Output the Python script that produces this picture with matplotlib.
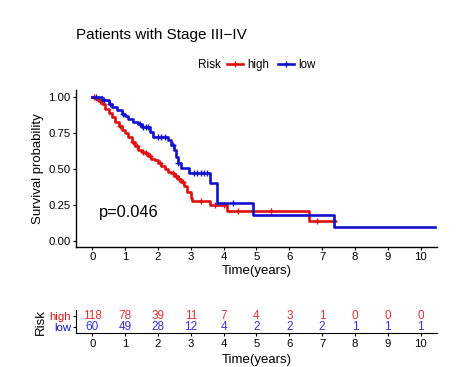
import matplotlib
matplotlib.use("Agg")
import matplotlib.pyplot as plt
from matplotlib.lines import Line2D

plt.rcParams['font.family'] = ['Liberation Sans', 'DejaVu Sans']

# 高风险组 KM 曲线 (时间, 生存率)
high_time = [0, 0.1, 0.2, 0.3, 0.4, 0.5, 0.6, 0.7, 0.8, 0.9, 1.0, 1.1, 1.2, 1.3, 1.4,
             1.5, 1.6, 1.7, 1.8, 1.9, 2.0, 2.1, 2.2, 2.3, 2.4, 2.5, 2.6, 2.7, 2.8, 2.9,
             3.0, 3.05, 3.6, 4.1, 6.6, 7.4]
high_surv = [1.0, 0.99, 0.97, 0.95, 0.92, 0.89, 0.86, 0.83, 0.80, 0.77, 0.75, 0.72, 0.69,
             0.66, 0.63, 0.62, 0.61, 0.59, 0.57, 0.56, 0.54, 0.52, 0.50, 0.48, 0.47, 0.45,
             0.43, 0.41, 0.38, 0.34, 0.30, 0.28, 0.25, 0.21, 0.14, 0.14]
high_cens = [0.05, 0.25, 0.85, 1.25, 1.35, 1.55, 1.65, 1.75, 2.05, 2.45, 2.55, 2.65, 2.75,
             3.3, 3.75, 4.0, 4.45, 5.45, 6.85, 7.35]

# 低风险组
low_time = [0, 0.3, 0.5, 0.6, 0.75, 0.9, 1.0, 1.1, 1.25, 1.4, 1.5, 1.75, 1.85, 2.3, 2.4,
            2.5, 2.55, 2.6, 2.7, 2.95, 3.6, 3.8, 4.9, 7.35, 10.45]
low_surv = [1.0, 0.98, 0.95, 0.93, 0.91, 0.88, 0.87, 0.85, 0.83, 0.81, 0.79, 0.76, 0.72,
            0.70, 0.67, 0.63, 0.58, 0.54, 0.51, 0.47, 0.40, 0.265, 0.18, 0.094, 0.094]
low_cens = [0.1, 0.35, 0.55, 0.95, 1.45, 1.55, 1.65, 1.7, 2.0, 2.1, 2.2, 2.45, 2.6,
            3.1, 3.2, 3.3, 3.4, 3.5, 4.3]

# 风险表
risk_times = [0, 1, 2, 3, 4, 5, 6, 7, 8, 9, 10]
risk_high = [118, 78, 39, 11, 7, 4, 3, 1, 0, 0, 0]
risk_low = [60, 49, 28, 12, 4, 2, 2, 2, 1, 1, 1]

pval_text = "p=0.046"
c_high = '#DD1111'
c_low = '#1111CC'


def surv_at(times, surv, t):
    s = surv[0]
    for ti, si in zip(times, surv):
        if ti <= t:
            s = si
    return s


fig = plt.figure(figsize=(4.71, 3.67), dpi=100)
ax = fig.add_axes([0.161, 0.328, 0.767, 0.427])

for times, surv, cens, col in [(high_time, high_surv, high_cens, c_high),
                               (low_time, low_surv, low_cens, c_low)]:
    ax.step(times, surv, where='post', color=col, lw=1.9)
    ax.plot(cens, [surv_at(times, surv, t) for t in cens], '+', color=col, ms=5, mew=1.0)

ax.text(0.2, 0.2, pval_text, fontsize=11.8, ha='left', va='center')
ax.set_xlim(-0.5, 10.5)
ax.set_ylim(-0.04, 1.05)
ax.set_xticks(risk_times)
ax.set_yticks([0, 0.25, 0.5, 0.75, 1.0])
ax.set_yticklabels(["0.00", "0.25", "0.50", "0.75", "1.00"])
ax.tick_params(labelsize=8.2, length=2.5, width=0.8, pad=1.5)
ax.set_xlabel("Time(years)", fontsize=9.5, labelpad=2)
ax.set_ylabel("Survival probability", fontsize=9.5, labelpad=3)
for s in ['top', 'right']:
    ax.spines[s].set_visible(False)
for s in ['left', 'bottom']:
    ax.spines[s].set_linewidth(1.0)

fig.text(0.161, 0.905, "Patients with Stage III\u2212IV", fontsize=11, ha='left', va='center')

# 图例
fig.text(0.42, 0.822, "Risk", fontsize=8.5, ha='left', va='center')
handles = [Line2D([], [], color=c_high, lw=1.9, marker='+', ms=5),
           Line2D([], [], color=c_low, lw=1.9, marker='+', ms=5)]
fig.legend(handles, ["high", "low"], loc='center left', bbox_to_anchor=(0.482, 0.822),
           ncol=2, frameon=False, fontsize=8.3, handlelength=1.4, handletextpad=0.35,
           columnspacing=0.8, borderpad=0, borderaxespad=0)

# 风险表
ax2 = fig.add_axes([0.161, 0.092, 0.767, 0.0635])
for t, h, l in zip(risk_times, risk_high, risk_low):
    ax2.text(t, 1, str(h), color=c_high, fontsize=8.5, ha='center', va='center', alpha=0.85)
    ax2.text(t, 0, str(l), color=c_low, fontsize=8.5, ha='center', va='center', alpha=0.85)
ax2.set_xlim(-0.5, 10.5)
ax2.set_ylim(-0.5, 1.5)
ax2.set_xticks(risk_times)
ax2.set_yticks([0, 1])
ax2.set_yticklabels(["low", "high"])
for lab, col in zip(ax2.get_yticklabels(), [c_low, c_high]):
    lab.set_color(col)
ax2.tick_params(labelsize=8.2, length=2.5, width=0.8, pad=1.5)
ax2.tick_params(axis='y', labelsize=8.2, pad=1)
ax2.set_xlabel("Time(years)", fontsize=9.5, labelpad=4)
ax2.set_ylabel("Risk", fontsize=9.5, labelpad=2)
for s in ['top', 'right']:
    ax2.spines[s].set_visible(False)

fig.savefig("out.png", dpi=100)
